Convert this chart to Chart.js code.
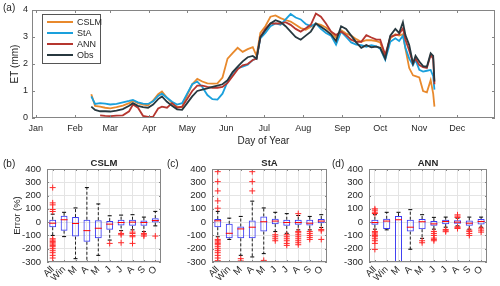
<!DOCTYPE html>
<html lang="en">
<head>
<meta charset="UTF-8">
<title>ET and model errors</title>
<script src="https://cdn.jsdelivr.net/npm/chart.js"></script>
<style>
  body { margin: 0; background: #fff; }
  #wrap { position: relative; width: 500px; height: 286px; }
  canvas { position: absolute; }
</style>
</head>
<body>
<div id="wrap">
  <canvas id="etChart" width="500" height="150" style="left:0;top:0"></canvas>
  <canvas id="cslmBox" width="166" height="136" style="left:0;top:150px"></canvas>
  <canvas id="staBox" width="166" height="136" style="left:166px;top:150px"></canvas>
  <canvas id="annBox" width="170" height="136" style="left:330px;top:150px"></canvas>
</div>
<script>
const FONT = "'Liberation Sans', Arial, sans-serif";
Chart.defaults.font.family = FONT;
Chart.defaults.font.size = 9;
Chart.defaults.color = '#262626';
Chart.defaults.animation = false;

// panel (a): daily ET
const monthDays = [1, 32, 60, 91, 121, 152, 182, 213, 244, 274, 305, 335];
const monthNames = ['Jan', 'Feb', 'Mar', 'Apr', 'May', 'Jun', 'Jul', 'Aug', 'Sep', 'Oct', 'Nov', 'Dec'];

const days = [45, 48, 52, 56, 60, 65, 70, 75, 78, 82, 86, 90, 94, 98, 101, 105, 109, 113, 117, 121,
  125, 129, 133, 137, 141, 145, 149, 153, 157, 161, 165, 169, 173, 176, 179, 183, 187, 191, 195, 199,
  203, 207, 211, 215, 219, 223, 227, 231, 235, 239, 243, 247, 251, 255, 259, 263, 267, 271, 274, 278,
  282, 286, 289, 292, 294, 297, 300, 302, 305, 308, 311, 314, 316, 317];

const cslm = [0.88, 0.45, 0.42, 0.38, 0.36, 0.40, 0.46, 0.55, 0.64, 0.55,
  0.50, 0.47, 0.65, 0.88, 0.98, 0.75, 0.55, 0.42, 0.40, 0.85,
  1.25, 1.45, 1.35, 1.28, 1.27, 1.28, 1.50, 2.20, 2.40, 2.60,
  2.45, 2.55, 2.62, 2.30, 3.15, 3.40, 3.75, 3.80, 3.70, 3.63,
  3.57, 3.45, 3.33, 3.27, 3.38, 3.50, 3.45, 3.35, 3.20, 2.97,
  3.25, 3.13, 3.05, 2.92, 2.82, 2.88, 2.88, 2.85, 2.80, 2.27,
  2.95, 3.10, 3.05, 3.10, 2.57, 1.85, 1.58, 1.55, 1.50, 1.00,
  0.95, 1.40, 0.90, 0.42];

const sta = [0.80, 0.52, 0.55, 0.53, 0.50, 0.52, 0.58, 0.63, 0.67, 0.58,
  0.53, 0.52, 0.62, 0.82, 0.90, 0.75, 0.60, 0.50, 0.55, 0.90,
  1.25, 1.35, 1.15, 0.85, 0.70, 0.68, 0.90, 1.35, 1.65, 1.85,
  1.90, 1.97, 2.15, 2.20, 2.95, 3.15, 3.40, 3.50, 3.45, 3.65,
  3.85, 3.72, 3.65, 3.48, 3.40, 3.50, 3.30, 3.15, 3.05, 2.72,
  3.20, 3.00, 2.80, 2.72, 2.70, 2.64, 2.70, 2.65, 2.57, 2.15,
  2.82, 2.95, 2.85, 3.05, 2.60, 2.20, 1.96, 2.15, 1.78, 1.72,
  1.75, 1.78, 1.55, 1.05];

const ann = [null, null, 0.10, 0.08, 0.07, 0.09, 0.10, 0.25, 0.50, 0.38,
  0.08, 0.04, 0.05, 0.35, 0.42, 0.38, 0.55, 0.38, 0.42, 0.70,
  1.00, 1.20, 1.20, 1.15, 1.12, 1.12, 1.15, 1.30, 1.55, 1.80,
  1.95, 2.00, 2.15, 2.20, 3.00, 3.30, 3.50, 3.50, 3.50, 3.55,
  3.45, 3.30, 3.20, 3.32, 3.45, 3.87, 3.75, 3.50, 3.20, 3.07,
  3.20, 3.07, 2.90, 2.82, 2.82, 3.07, 2.98, 2.90, 2.90, 2.33,
  3.00, 3.07, 3.10, 3.32, 2.90, 2.50, 2.02, 2.20, 1.96, 1.88,
  1.85, 2.33, 2.20, 1.25];

const obs = [0.42, 0.30, 0.25, 0.25, 0.24, 0.27, 0.33, 0.45, 0.55, 0.45,
  0.40, 0.38, 0.50, 0.70, 0.80, 0.60, 0.45, 0.32, 0.30, 0.55,
  0.80, 1.00, 1.05, 1.10, 1.15, 1.20, 1.25, 1.40, 1.70, 1.90,
  2.10, 2.25, 2.30, 2.20, 3.00, 3.25, 3.50, 3.62, 3.55, 3.40,
  3.20, 3.00, 2.90, 3.05, 3.20, 3.50, 3.38, 3.25, 3.10, 2.85,
  3.40, 3.30, 3.05, 2.80, 2.60, 2.70, 2.62, 2.64, 2.60, 2.20,
  3.05, 3.30, 3.15, 3.55, 3.07, 2.70, 2.02, 2.30, 2.09, 1.92,
  1.90, 2.40, 2.30, 1.35];

// panels (b)-(d): error boxplots per period
const boxCats = ['All', 'Win', 'M', 'A', 'M', 'J', 'J', 'A', 'S', 'O'];

const cslmQ1 = [-38, -64, -109, -148, -122, -58, -25, -28, -28, -3];
const cslmMed = [-8, 18, -10, -64, -46, -15, -3, 0, -3, 12];
const cslmQ3 = [18, 48, 38, 18, 15, 8, 18, 18, 13, 30];
const cslmLo = [-100, -109, -275, -320, -250, -135, -64, -58, -71, -28];
const cslmHi = [60, 74, 107, 260, 137, 48, 53, 56, 38, 81];
const cslmOut = [[260, 145, 130, 95, 80, -125, -135, -145, -155, -165, -175, -185, -200, -215, -230, -250, -270],
  [], [], [], [], [-160], [-85, -95, -155], [-75, -85, -100, -110, -160], [-85, -95, -105], [-105]];

const staQ1 = [-38, -122, -122, -122, -71, -15, -28, -20, -25, -8];
const staMed = [10, -84, -51, -38, 3, 8, -3, -3, -8, 8];
const staQ3 = [23, -13, -33, 13, 43, 25, 18, 18, 18, 23];
const staLo = [-110, -130, -250, -262, -237, -71, -84, -58, -58, -40];
const staHi = [81, 30, 43, 158, 107, 74, 64, 50, 43, 56];
const staOut = [[380, 305, 235, 160, 105, -130, -140, -150, -160, -170, -185, -200, -215, -230, -250, -270, -290],
  [], [-275, -292], [380, 305, 235], [-288], [-95, -110, -125, -140], [-95, -110, -125, -140, -160, -175],
  [64, -70, -80, -95, -110, -125, -140, -155, -170], [-70, -85, -100, -115, -130], [-55, -65, -130]];

const annQ1 = [-20, -51, -350, -71, -53, -28, -15, -13, -28, -18];
const annMed = [-3, 8, 18, -38, 3, -13, 5, 0, -8, 5];
const annQ3 = [18, 25, 46, 18, 23, 8, 18, 15, 13, 23];
const annLo = [-53, -58, -350, -204, -122, -53, -38, -28, -53, -38];
const annHi = [56, 74, 74, 94, 56, 36, 38, 30, 38, 38];
const annOut = [[65, 75, 90, 100, -70, -80, -90, -100, -110, -125, -140, -160, -205],
  [], [], [], [-140, -155], [-70, -85, -100, -120, -130, -140], [-55, -65, -72],
  [35, 45, 55, -35, -42, -48], [-60, -70, -85, -100], [-45, -60, -75]];

// axes box, inside ticks, panel letters, titles, legend
const framePlugin = {
  id: 'frame',
  afterDatasetsDraw(chart, args, o) {
    const {ctx, chartArea: a} = chart;
    ctx.save();
    ctx.strokeStyle = '#858585';
    ctx.lineWidth = 1;
    ctx.strokeRect(a.left + 0.5, a.top + 0.5, a.width - 1, a.height - 1);
    const tl = o.tickLen;
    const xs = chart.scales.x, ys = chart.scales.y;
    ctx.beginPath();
    xs.ticks.forEach((t, i) => {
      const p = Math.round(xs.getPixelForTick(i)) + 0.5;
      ctx.moveTo(p, a.bottom); ctx.lineTo(p, a.bottom - tl);
      ctx.moveTo(p, a.top); ctx.lineTo(p, a.top + tl);
    });
    ys.ticks.forEach((t, i) => {
      const p = Math.round(ys.getPixelForTick(i)) + 0.5;
      ctx.moveTo(a.left, p); ctx.lineTo(a.left + tl, p);
      ctx.moveTo(a.right, p); ctx.lineTo(a.right - tl, p);
    });
    ctx.stroke();

    ctx.fillStyle = '#262626';
    ctx.textBaseline = 'middle';
    ctx.textAlign = 'left';
    ctx.font = `10px ${FONT}`;
    ctx.fillText(o.tag, o.tagX, o.tagY);
    if (o.title) {
      ctx.font = `bold 9.5px ${FONT}`;
      ctx.textAlign = 'center';
      ctx.fillText(o.title, (a.left + a.right) / 2, a.top - 6);
    }

    if (o.legend) {
      const x0 = a.left + 10, y0 = a.top + 4;
      ctx.fillStyle = '#fff';
      ctx.fillRect(x0, y0, 58, 49);
      ctx.strokeStyle = '#555';
      ctx.strokeRect(x0 + 0.5, y0 + 0.5, 58, 49);
      ctx.font = `9px ${FONT}`;
      ctx.textAlign = 'left';
      chart.data.datasets.forEach((d, i) => {
        const y = y0 + 8 + i * 11;
        ctx.strokeStyle = d.borderColor;
        ctx.lineWidth = 2;
        ctx.beginPath();
        ctx.moveTo(x0 + 5, y); ctx.lineTo(x0 + 31, y);
        ctx.stroke();
        ctx.fillStyle = '#262626';
        ctx.fillText(d.label, x0 + 35, y + 0.5);
      });
    }
    ctx.restore();
  }
};

const toXY = vals => days.map((d, i) => ({x: d, y: vals[i]}));

new Chart(document.getElementById('etChart'), {
  type: 'line',
  data: {
    datasets: [
      {label: 'CSLM', data: toXY(cslm), borderColor: '#e8892c', order: 4},
      {label: 'StA', data: toXY(sta), borderColor: '#1aa0dc', order: 3},
      {label: 'ANN', data: toXY(ann), borderColor: '#b5362f', order: 2},
      {label: 'Obs', data: toXY(obs), borderColor: '#27383f', order: 1}
    ]
  },
  options: {
    responsive: false,
    layout: {padding: {top: 10, right: 5, left: 0, bottom: 0}},
    elements: {point: {radius: 0}, line: {borderWidth: 1.8, tension: 0}},
    plugins: {
      legend: {display: false},
      tooltip: {enabled: false},
      frame: {tag: '(a)', tagX: 3, tagY: 8.5, tickLen: 3, legend: true}
    },
    scales: {
      x: {
        type: 'linear', min: -2, max: 365,
        afterBuildTicks: s => { s.ticks = monthDays.map(v => ({value: v})); },
        ticks: {callback: (v, i) => monthNames[i], autoSkip: false, maxRotation: 0, padding: 5},
        grid: {display: false, drawTicks: false},
        border: {display: false},
        title: {display: true, text: 'Day of Year', font: {size: 10}, padding: {top: 0, bottom: 3}},
        afterFit: s => { s.height = 32; }
      },
      y: {
        min: 0, max: 4,
        ticks: {stepSize: 1, padding: 4, autoSkip: false},
        grid: {display: false, drawTicks: false},
        border: {display: false},
        title: {display: true, text: 'ET (mm)', font: {size: 10}, padding: {top: 9, bottom: 0}},
        afterFit: s => { s.width = 32; }
      }
    }
  },
  plugins: [framePlugin]
});

function boxChart(id, q1, med, q3, lo, hi, out, opt) {
  const whisk = [], caps = [], outPts = [];
  boxCats.forEach((c, i) => {
    whisk.push({x: i, y: q3[i]}, {x: i, y: hi[i]}, {x: i, y: null},
               {x: i, y: q1[i]}, {x: i, y: lo[i]}, {x: i, y: null});
    caps.push({x: i, y: hi[i]}, {x: i, y: lo[i]});
    out[i].forEach(v => outPts.push({x: i, y: v}));
  });
  return new Chart(document.getElementById(id), {
    type: 'bar',
    data: {
      datasets: [
        {type: 'line', data: whisk, borderColor: '#222', borderWidth: 1, borderDash: [3, 2],
         pointRadius: 0, spanGaps: false, clip: 0, order: 4},
        {type: 'line', data: caps, showLine: false, pointStyle: 'line', pointRadius: 2,
         pointBorderColor: '#000', pointBorderWidth: 1, clip: 0, order: 3},
        {type: 'bar', data: q1.map((v, i) => ({x: i, y: [v, q3[i]]})),
         backgroundColor: 'rgba(0,0,0,0)', borderColor: '#3a3af2', borderWidth: 1,
         borderSkipped: false, barPercentage: 0.6, categoryPercentage: 1, clip: 0, order: 2},
        {type: 'line', data: med.map((v, i) => ({x: i, y: v})), showLine: false,
         pointStyle: 'line', pointRadius: 3.5, pointBorderColor: '#ff0000', pointBorderWidth: 1, order: 1},
        {type: 'line', data: outPts, showLine: false, pointStyle: 'cross', pointRadius: 3,
         pointBorderColor: '#ff2a2a', pointBorderWidth: 1, order: 0}
      ]
    },
    options: {
      responsive: false,
      layout: {padding: {top: 19, right: opt.right, left: 0, bottom: 0}},
      plugins: {
        legend: {display: false},
        tooltip: {enabled: false},
        frame: {tag: opt.tag, tagX: opt.tagX, tagY: 14, tickLen: 2, title: opt.title}
      },
      scales: {
        x: {
          type: 'linear', min: -0.5, max: 9.5, offset: false,
          afterBuildTicks: s => { s.ticks = boxCats.map((c, i) => ({value: i})); },
          ticks: {callback: (v, i) => boxCats[i], autoSkip: false, minRotation: 45, maxRotation: 45,
                  padding: 2, font: {size: 9.5}},
          grid: {color: '#e4e4e4', offset: false, drawTicks: false},
          border: {display: false},
          afterFit: s => { s.height = 24; }
        },
        y: {
          min: -300, max: 400,
          ticks: {stepSize: 100, padding: 6, autoSkip: false, font: {size: 9.5}},
          grid: {color: '#e4e4e4', drawTicks: false},
          border: {display: false},
          title: {display: !!opt.yTitle, text: opt.yTitle, font: {size: 9.5}, padding: {top: 12, bottom: 0}},
          afterFit: s => { s.width = opt.yw; }
        }
      }
    },
    plugins: [framePlugin]
  });
}

boxChart('cslmBox', cslmQ1, cslmMed, cslmQ3, cslmLo, cslmHi, cslmOut,
  {tag: '(b)', tagX: 3, title: 'CSLM', yTitle: 'Error (%)', yw: 47, right: 3});
boxChart('staBox', staQ1, staMed, staQ3, staLo, staHi, staOut,
  {tag: '(c)', tagX: 1, title: 'StA', yTitle: '', yw: 46, right: 3});
boxChart('annBox', annQ1, annMed, annQ3, annLo, annHi, annOut,
  {tag: '(d)', tagX: 2, title: 'ANN', yTitle: '', yw: 39, right: 13});
</script>
</body>
</html>
